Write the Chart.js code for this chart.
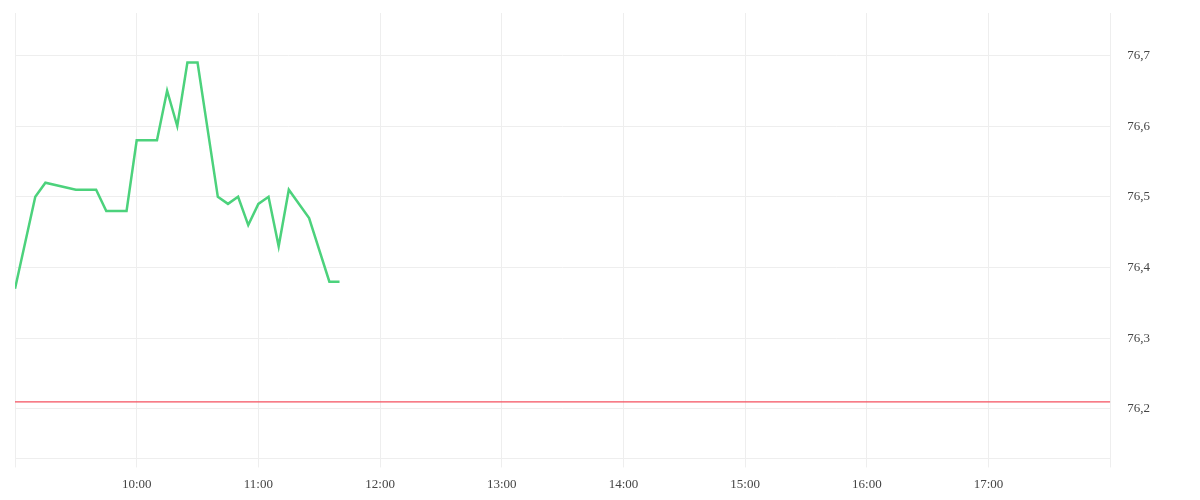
<!DOCTYPE html>
<html>
<head>
<meta charset="utf-8">
<script src="https://cdn.jsdelivr.net/npm/chart.js@4"></script>
<style>
  html, body { margin: 0; padding: 0; background: #fff; }
  #wrap { width: 1200px; height: 500px; }
</style>
</head>
<body>
<div id="wrap"><canvas id="cours"></canvas></div>
<script>
// minutes depuis minuit
const heures = [540, 550, 555, 570, 580, 585, 595, 600, 610, 615, 620, 625, 630, 640, 645, 650, 655, 660, 665, 670, 675, 685, 695, 700];
const cours = [76.37, 76.50, 76.52, 76.51, 76.51, 76.48, 76.48, 76.58, 76.58, 76.65, 76.60, 76.69, 76.69, 76.50, 76.49, 76.50, 76.46, 76.49, 76.50, 76.43, 76.51, 76.47, 76.38, 76.38];
const clotureVeille = 76.21;
const debutSeance = 540;
const finSeance = 1080;

const pointsCours = heures.map((h, i) => ({ x: h, y: cours[i] }));
const pointsCloture = [{ x: debutSeance, y: clotureVeille }, { x: finSeance, y: clotureVeille }];

function fmtHeure(m) {
  const h = Math.floor(m / 60);
  const mn = m % 60;
  return (h < 10 ? '0' + h : h) + ':' + (mn < 10 ? '0' + mn : mn);
}

new Chart(document.getElementById('cours'), {
  type: 'line',
  data: {
    datasets: [
      {
        data: pointsCours,
        borderColor: '#4cd27c',
        borderWidth: 2.5,
        pointRadius: 0,
        tension: 0,
        order: 1
      },
      {
        data: pointsCloture,
        borderColor: '#f4515f',
        borderWidth: 1.3,
        pointRadius: 0,
        order: 2
      }
    ]
  },
  options: {
    responsive: true,
    maintainAspectRatio: false,
    animation: false,
    layout: { padding: { left: 15, top: 13, right: 50, bottom: -1 } },
    plugins: { legend: { display: false }, tooltip: { enabled: false } },
    scales: {
      x: {
        type: 'linear',
        min: debutSeance,
        max: finSeance,
        ticks: {
          stepSize: 60,
          autoSkip: false,
          maxRotation: 0,
          padding: 9,
          color: '#444',
          font: { family: 'Liberation Serif', size: 13 },
          callback: v => (v === debutSeance || v === finSeance) ? '' : fmtHeure(v)
        },
        grid: { color: '#eeeeee', tickLength: 9 },
        border: { color: '#eeeeee' }
      },
      y: {
        position: 'right',
        min: 76.13,
        max: 76.76,
        afterBuildTicks: scale => {
          scale.ticks = scale.ticks.filter(t => Math.abs(t.value * 10 - Math.round(t.value * 10)) < 1e-6);
        },
        ticks: {
          stepSize: 0.1,
          padding: 0,
          color: '#444',
          font: { family: 'Liberation Serif', size: 13 },
          callback: v => v.toFixed(1).replace('.', ',')
        },
        // tick invisible : sert seulement à décaler les libellés
        grid: { color: '#eeeeee', drawTicks: true, tickLength: 17, tickColor: 'rgba(0,0,0,0)' },
        border: { color: '#eeeeee' }
      }
    }
  }
});
</script>
</body>
</html>
